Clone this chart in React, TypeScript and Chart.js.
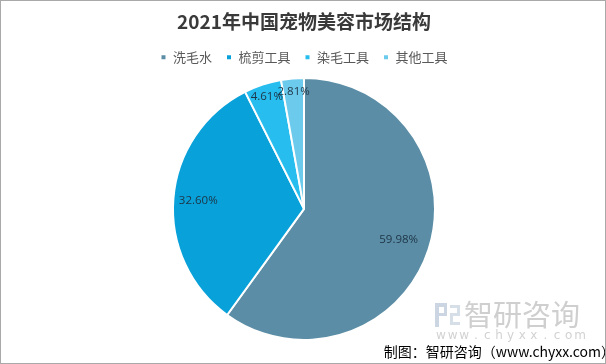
import React, { useEffect, useRef } from "react";
import { Chart, registerables } from "chart.js";

Chart.register(...registerables);

const titleText = "2021年中国宠物美容市场结构";
const categories = ["洗毛水", "梳剪工具", "染毛工具", "其他工具"];
const shares = [59.98, 32.6, 4.61, 2.81];
const labelTexts = ["59.98%", "32.60%", "4.61%", "2.81%"];
const sliceColors = ["#5b8ea6", "#08a1d9", "#27bdee", "#6ccaec"];
const creditText = "制图：智研咨询（www.chyxx.com）";
const watermarkBig = "智研咨询";
const watermarkUrl = "www.chyxx.com";

const CJK = "'Noto Sans CJK SC', 'Noto Sans', sans-serif";

const labelFractions = [0.76, 0.81, 0.9, 0.9];

const labelPlugin = {
  id: "sliceLabels",
  afterDatasetsDraw(chart: any) {
    const ctx = chart.ctx;
    const meta = chart.getDatasetMeta(0);
    ctx.save();
    ctx.font = "11.5px 'Open Sans', sans-serif";
    ctx.fillStyle = "#1e3446";
    ctx.textAlign = "center";
    ctx.textBaseline = "middle";
    meta.data.forEach((arc: any, i: number) => {
      const p = arc.getProps(["x", "y", "startAngle", "endAngle", "outerRadius"], true);
      const mid = (p.startAngle + p.endAngle) / 2;
      const r = p.outerRadius * labelFractions[i];
      ctx.fillText(labelTexts[i], p.x + Math.cos(mid) * r, p.y + Math.sin(mid) * r);
    });
    ctx.restore();
  },
};

const decorPlugin = {
  id: "decor",
  afterDraw(chart: any) {
    const ctx = chart.ctx;
    const W = chart.width;
    const H = chart.height;
    ctx.save();
    // logo
    ctx.fillStyle = "#cbd6e2";
    ctx.fillRect(435, 303, 12, 4);
    ctx.fillRect(435, 303, 4, 24);
    ctx.fillRect(435, 313, 12, 3);
    ctx.fillRect(444, 303, 3, 13);
    ctx.fillStyle = "#d6dee8";
    ctx.fillRect(450, 305, 10, 3);
    ctx.fillRect(457, 305, 3, 10);
    ctx.fillRect(450, 313, 10, 3);
    ctx.fillRect(450, 313, 3, 11);
    ctx.fillRect(450, 322, 10, 3);
    // big watermark text
    ctx.fillStyle = "#cfcfcf";
    ctx.font = "29px " + CJK;
    ctx.textAlign = "left";
    ctx.textBaseline = "middle";
    ctx.fillText(watermarkBig, 464, 315);
    // spaced url
    ctx.fillStyle = "#d2d2d2";
    ctx.font = "12px 'DejaVu Sans', sans-serif";
    ctx.textAlign = "center";
    const chars = watermarkUrl.split("");
    chars.forEach((c, i) => {
      ctx.fillText(c, 441 + i * 11.6, 336);
    });
    // credit
    ctx.fillStyle = "#000000";
    ctx.font = "14px " + CJK;
    ctx.textAlign = "right";
    ctx.fillText(creditText, 615, 352);
    // outer frame
    ctx.strokeStyle = "#a9a9a9";
    ctx.lineWidth = 1;
    ctx.strokeRect(0.5, 0.5, W - 1, H - 1);
    ctx.restore();
  },
};

export default function App() {
  const canvasRef = useRef<HTMLCanvasElement | null>(null);

  useEffect(() => {
    document.body.style.margin = "0";
    const canvas = canvasRef.current;
    if (!canvas) return;
    const chart = new Chart(canvas, {
      type: "pie",
      data: {
        labels: categories,
        datasets: [
          {
            data: shares,
            backgroundColor: sliceColors,
            borderColor: "#ffffff",
            borderWidth: 2,
            radius: 131,
          },
        ],
      },
      options: {
        responsive: false,
        animation: false,
        layout: { padding: { left: 2, right: 0, top: 0, bottom: 20 } },
        plugins: {
          title: {
            display: true,
            text: titleText,
            color: "#3a3a3a",
            font: { family: CJK, size: 19, weight: "bold" },
            padding: { top: 10, bottom: 4 },
          },
          legend: {
            display: true,
            position: "top",
            labels: {
              color: "#595959",
              font: { family: CJK, size: 13 },
              boxWidth: 6,
              boxHeight: 6,
              padding: 14,
            },
          },
          tooltip: { enabled: false },
        },
      },
      plugins: [labelPlugin, decorPlugin],
    });
    return () => chart.destroy();
  }, []);

  return (
    <div style={{ position: "absolute", left: 0, top: 0, width: 606, height: 364, background: "#ffffff" }}>
      <canvas ref={canvasRef} width={606} height={364} style={{ display: "block", width: 606, height: 364 }} />
    </div>
  );
}
